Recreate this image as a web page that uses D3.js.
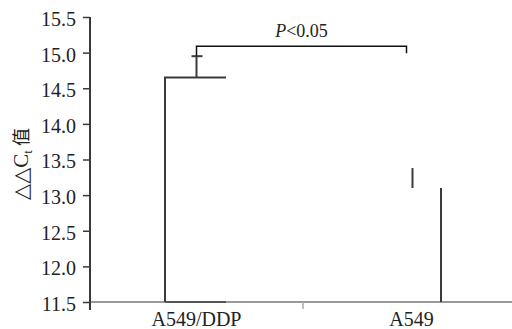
<!DOCTYPE html>
<html>
<head>
<meta charset="utf-8">
<script src="https://cdn.jsdelivr.net/npm/d3@7"></script>
<style>
  body { margin: 0; background: #fff; }
</style>
</head>
<body>
<svg></svg>
<script>
const size = {w: 512, h: 329};
const serif = "'Liberation Serif', 'Times New Roman', 'DejaVu Serif', serif";
const svg = d3.select('svg').attr('width', size.w).attr('height', size.h);

// data
const categories = ['A549/DDP', 'A549'];
const means = [14.65, 13.1];
const errTop = [14.95, 13.38];
const yTicks = [11.5, 12.0, 12.5, 13.0, 13.5, 14.0, 14.5, 15.0, 15.5];
const bracketLevel = 15.09;
const bracketEnds = [14.95, 14.99];
const pText = '<0.05';

const y = d3.scaleLinear().domain([11.5, 15.5]).range([302, 17]);
const x = d3.scalePoint().domain(categories).range([88, 518]).padding(0.5);
const barW = 61;
const dark = '#3a3a3a';

// x axis
svg.append('line')
    .attr('x1', 90).attr('x2', size.w)
    .attr('y1', y(11.5)).attr('y2', y(11.5))
    .attr('stroke', '#777').attr('stroke-width', 1.5);
svg.append('line')
    .attr('x1', 303).attr('x2', 303)
    .attr('y1', y(11.5)).attr('y2', y(11.5) + 7)
    .attr('stroke', '#aaa').attr('stroke-width', 1.5);

// y axis
const yAxis = svg.append('g')
    .attr('transform', 'translate(90,0)')
    .call(d3.axisLeft(y).tickValues(yTicks).tickFormat(d3.format('.1f')).tickSize(7).tickSizeOuter(0));
yAxis.attr('font-family', serif).attr('font-size', 20);
yAxis.select('.domain').remove();
yAxis.selectAll('.tick line').attr('stroke', dark).attr('stroke-width', 1.5);
yAxis.selectAll('.tick text')
    .attr('x', -14).attr('dy', '0.42em')
    .attr('fill', '#222');
svg.append('line')
    .attr('x1', 90).attr('x2', 90)
    .attr('y1', y(15.5)).attr('y2', y(11.5) + 8)
    .attr('stroke', dark).attr('stroke-width', 2);

// x labels
svg.selectAll('.xlab')
    .data(categories)
    .join('text')
    .attr('class', 'xlab')
    .attr('x', d => x(d) + 1)
    .attr('y', 326)
    .attr('text-anchor', 'middle')
    .attr('font-family', serif)
    .attr('font-size', 20)
    .attr('fill', '#222')
    .text(d => d);

// y label
const yl = svg.append('text')
    .attr('transform', 'translate(28,164) rotate(-90)')
    .attr('text-anchor', 'middle')
    .attr('font-family', serif)
    .attr('font-size', 21)
    .attr('fill', '#222');
yl.append('tspan').text('△△C');
yl.append('tspan').attr('dy', 4).attr('font-size', 13).text('t');
yl.append('tspan').attr('dy', -4).attr('font-family', "'Noto Sans CJK SC', sans-serif").attr('font-size', 18).text(' 值');

// bars (only some outline edges visible in the original)
const g = svg.append('g').attr('stroke', dark).attr('stroke-width', 2).attr('fill', 'none');
categories.forEach((c, i) => {
  const x0 = x(c) - barW / 2, x1 = x(c) + barW / 2;
  if (i === 0) {
    g.append('path').attr('d', `M${x0},${y(11.5)}V${y(means[i])}H${x1}`);
    g.append('line').attr('x1', x0).attr('x2', x1).attr('y1', y(11.5)).attr('y2', y(11.5)).attr('stroke', '#555');
    // error bar with cap
    g.append('line').attr('x1', x(c) + 1).attr('x2', x(c) + 1).attr('y1', y(means[i])).attr('y2', y(errTop[i]));
    g.append('line').attr('x1', x(c) - 4).attr('x2', x(c) + 7).attr('y1', y(errTop[i])).attr('y2', y(errTop[i]));
  } else {
    g.append('line').attr('x1', x1).attr('x2', x1).attr('y1', y(11.5)).attr('y2', y(means[i]));
    g.append('line').attr('x1', x(c) + 2).attr('x2', x(c) + 2).attr('y1', y(means[i])).attr('y2', y(errTop[i]));
  }
});

// significance bracket
const bx0 = x(categories[0]) + 1, bx1 = x(categories[1]) - 4;
svg.append('path')
    .attr('d', `M${bx0},${y(bracketEnds[0])}V${y(bracketLevel)}H${bx1}V${y(bracketEnds[1])}`)
    .attr('fill', 'none').attr('stroke', '#111').attr('stroke-width', 1.5);
const pt = svg.append('text')
    .attr('x', (bx0 + bx1) / 2)
    .attr('y', 37)
    .attr('text-anchor', 'middle')
    .attr('font-family', serif)
    .attr('font-size', 18)
    .attr('fill', '#222');
pt.append('tspan').attr('font-style', 'italic').text('P');
pt.append('tspan').text(pText);
</script>
</body>
</html>
